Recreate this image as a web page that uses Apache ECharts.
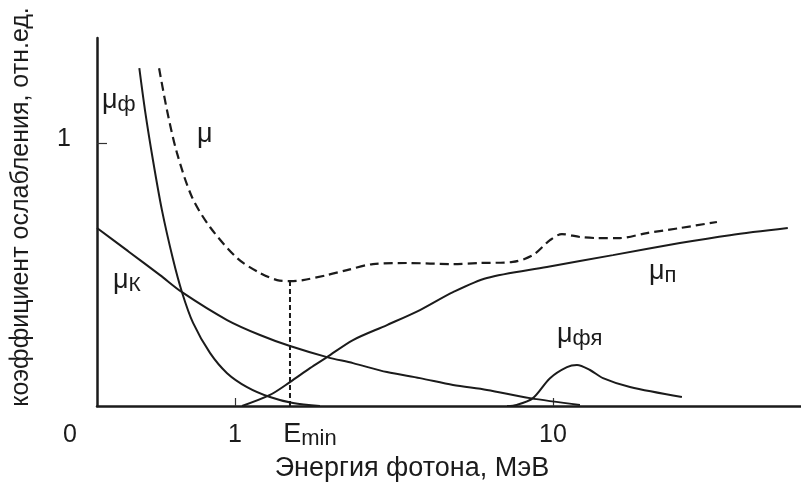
<!DOCTYPE html>
<html>
<head>
<meta charset="utf-8">
<script src="https://cdn.jsdelivr.net/npm/echarts@6/dist/echarts.min.js"></script>
<style>html,body{margin:0;padding:0;background:#fff}#c{width:801px;height:490px}</style>
</head>
<body>
<div id="c"></div>
<script>
// Photon energies (MeV) and attenuation coefficients (rel. units)
const E_PHOTO   = [0.50, 0.521, 0.552, 0.589, 0.638, 0.681, 0.738, 0.834, 0.944, 1.091, 1.288, 1.522, 1.85];
const MU_PHOTO  = [1.285, 1.125, 0.935, 0.745, 0.559, 0.433, 0.316, 0.202, 0.125, 0.072, 0.034, 0.011, 0.0];

const E_TOTAL   = [0.577, 0.611, 0.657, 0.732, 0.834, 1.015, 1.198, 1.356, 1.489, 1.636, 1.947, 2.25, 2.716, 3.475, 4.85, 5.89, 7.48, 8.65, 9.79, 10.67, 12.16, 13.75, 16.25, 19.75, 25.08, 32.8];
const MU_TOTAL  = [1.285, 1.125, 0.962, 0.795, 0.681, 0.563, 0.506, 0.479, 0.475, 0.479, 0.498, 0.517, 0.540, 0.544, 0.540, 0.544, 0.548, 0.574, 0.631, 0.654, 0.643, 0.639, 0.639, 0.658, 0.677, 0.700];

const E_COMPTON  = [0.368, 0.461, 0.581, 0.681, 0.944, 1.198, 1.489, 1.947, 2.35, 3.006, 3.817, 4.85, 6.20, 8.47, 12.16];
const MU_COMPTON = [0.677, 0.589, 0.498, 0.433, 0.327, 0.270, 0.228, 0.186, 0.163, 0.129, 0.106, 0.080, 0.061, 0.030, 0.004];

const E_PAIR    = [1.052, 1.288, 1.489, 1.721, 1.947, 2.35, 3.006, 3.817, 4.85, 6.20, 9.57, 15.44, 25.08, 36.04, 54.8];
const MU_PAIR   = [0.0, 0.042, 0.091, 0.144, 0.186, 0.251, 0.308, 0.365, 0.433, 0.487, 0.529, 0.574, 0.620, 0.650, 0.677];

const E_PHOTONUC  = [7.17, 7.70, 8.65, 9.79, 11.07, 11.90, 13.08, 14.37, 17.47, 25.45];
const MU_PHOTONUC = [0.0, 0.004, 0.030, 0.106, 0.148, 0.156, 0.137, 0.106, 0.072, 0.034];

const E_MIN = 1.489;
const X_TICKS = [1, 10];          // energy tick marks (MeV)
const Y_TICKS = [1];              // coefficient tick mark
const X_LEFT_E = 0.368;           // energy at the left end of the axis (labelled "0")
const X_RIGHT_E = 60.3;           // energy at the right end of the axis

const lg = v => Math.log10(v);
const pairs = (xs, ys) => xs.map((x, i) => [lg(x), ys[i]]);
const muAtEmin = MU_TOTAL[E_TOTAL.indexOf(E_MIN)];

const X_MIN = lg(X_LEFT_E), X_MAX = lg(X_RIGHT_E);
const near = (a, b) => Math.abs(a - b) < 1e-6;

const INK = '#1b1b1b';
const FONT = 'Liberation Sans, Arial, sans-serif';

const solid = (data) => ({
  type: 'line', data, symbol: 'none', smooth: 0.3,
  lineStyle: { color: INK, width: 2 }, silent: true, z: 3
});

const chart = echarts.init(document.getElementById('c'));
chart.setOption({
  animation: false,
  backgroundColor: '#fff',
  grid: { left: 97, right: 0, top: 38, bottom: 84, containLabel: false, outerBoundsMode: 'none' },
  xAxis: {
    type: 'value', min: X_MIN, max: X_MAX,
    splitLine: { show: false },
    axisLine: { onZero: false, lineStyle: { color: INK, width: 2.5 } },
    axisTick: { show: true, inside: true, length: 8, customValues: X_TICKS.map(lg), lineStyle: { color: '#333', width: 1.2 } },
    axisLabel: {
      customValues: [X_MIN, lg(1), lg(E_MIN), lg(10)],
      margin: 14,
      formatter: (v) => {
        if (near(v, X_MIN)) return '{z|0}';
        if (near(v, lg(E_MIN))) return '{e|E}{s|min}';
        return '{n|' + Math.round(Math.pow(10, v)) + '}';
      },
      rich: {
        z: { fontSize: 25, fontFamily: FONT, color: INK, lineHeight: 30, padding: [0, 54, 0, 0] },
        n: { fontSize: 25, fontFamily: FONT, color: INK, lineHeight: 30 },
        e: { fontSize: 27, fontFamily: FONT, color: INK, lineHeight: 30, padding: [0, 0, 0, 40] },
        s: { fontSize: 22, fontFamily: FONT, color: INK, lineHeight: 14, verticalAlign: 'bottom' }
      }
    },
    name: 'Энергия фотона, МэВ',
    nameLocation: 'middle', nameGap: 47,
    nameTextStyle: { fontSize: 27, fontFamily: FONT, color: INK, padding: [0, 74, 0, 0] }
  },
  yAxis: {
    type: 'value', min: 0, max: 1.4,
    splitLine: { show: false },
    axisLine: { onZero: false, lineStyle: { color: INK, width: 2.5 } },
    axisTick: { show: true, inside: true, length: 10, customValues: Y_TICKS, lineStyle: { color: '#333', width: 1.2 } },
    axisLabel: {
      customValues: Y_TICKS, margin: 26,
      formatter: (v) => '{n|' + v + '}',
      rich: { n: { fontSize: 25, fontFamily: FONT, color: INK, lineHeight: 30, padding: [0, 0, 9, 0] } }
    },
    name: 'коэффициент ослабления, отн.ед.',
    nameLocation: 'middle', nameRotate: 90, nameGap: 63,
    nameTextStyle: { fontSize: 25, fontFamily: FONT, color: INK, padding: [0, 0, 0, 30] }
  },
  series: [
    solid(pairs(E_PHOTO, MU_PHOTO)),
    solid(pairs(E_COMPTON, MU_COMPTON)),
    solid(pairs(E_PAIR, MU_PAIR)),
    solid(pairs(E_PHOTONUC, MU_PHOTONUC)),
    {
      type: 'line', data: pairs(E_TOTAL, MU_TOTAL), symbol: 'none', smooth: 0.3,
      lineStyle: { color: INK, width: 2.2, type: [9, 5] }, silent: true, z: 3
    },
    {
      type: 'line', data: [[lg(E_MIN), 0], [lg(E_MIN), muAtEmin]], symbol: 'none',
      lineStyle: { color: INK, width: 2, type: [5, 3] }, silent: true, z: 2
    }
  ],
  graphic: [
    { type: 'text', left: 102, top: 87, style: { text: '{m|μ}{s|ф}', rich: {
      m: { fontSize: 27, fontFamily: FONT, fill: INK, lineHeight: 30 },
      s: { fontSize: 22, fontFamily: FONT, fill: INK, lineHeight: 22, verticalAlign: 'bottom' } } } },
    { type: 'text', left: 197, top: 120, style: { text: 'μ', font: '27px ' + FONT, fill: INK, lineHeight: 30 } },
    { type: 'text', left: 113, top: 267, style: { text: '{m|μ}{s|К}', rich: {
      m: { fontSize: 27, fontFamily: FONT, fill: INK, lineHeight: 30 },
      s: { fontSize: 21, fontFamily: FONT, fill: INK, lineHeight: 22, verticalAlign: 'bottom' } } } },
    { type: 'text', left: 649, top: 258, style: { text: '{m|μ}{s|п}', rich: {
      m: { fontSize: 27, fontFamily: FONT, fill: INK, lineHeight: 30 },
      s: { fontSize: 22, fontFamily: FONT, fill: INK, lineHeight: 22, verticalAlign: 'bottom' } } } },
    { type: 'text', left: 557, top: 321, style: { text: '{m|μ}{s|фя}', rich: {
      m: { fontSize: 27, fontFamily: FONT, fill: INK, lineHeight: 30 },
      s: { fontSize: 22, fontFamily: FONT, fill: INK, lineHeight: 22, verticalAlign: 'bottom' } } } }
  ]
});
</script>
</body>
</html>
